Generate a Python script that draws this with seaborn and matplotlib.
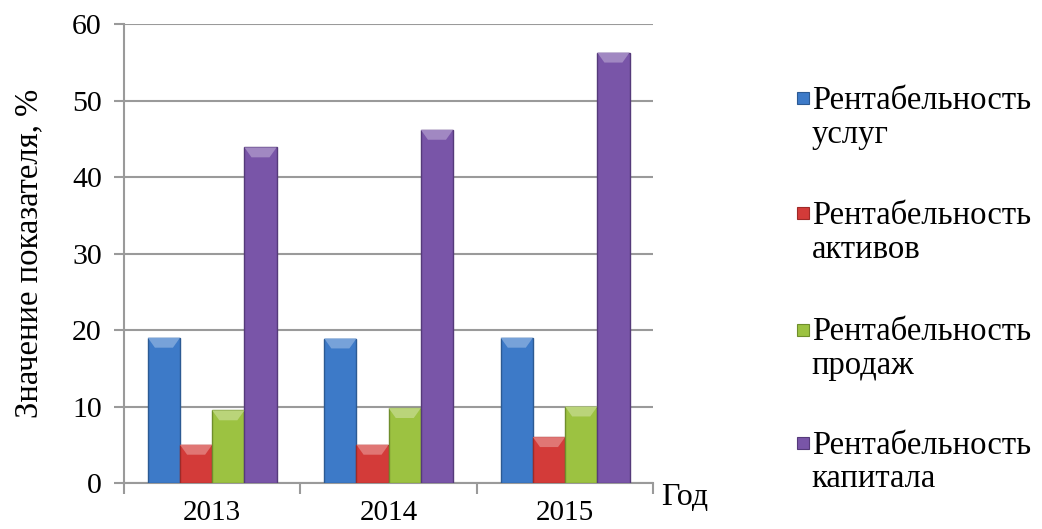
import matplotlib
matplotlib.use("Agg")
import matplotlib.pyplot as plt
from matplotlib.patches import Rectangle, Polygon
import matplotlib.colors as mcolors
import seaborn as sns
import pandas as pd

years = ["2013", "2014", "2015"]
series = ["Рентабельность услуг", "Рентабельность активов",
          "Рентабельность продаж", "Рентабельность капитала"]
legend_labels = ["Рентабельность\nуслуг", "Рентабельность\nактивов",
                 "Рентабельность\nпродаж", "Рентабельность\nкапитала"]
services = [19.0, 18.9, 19.0]
assets = [5.0, 5.0, 6.0]
sales = [9.5, 9.8, 10.0]
capital = [43.9, 46.2, 56.3]
y_ticks = [0, 10, 20, 30, 40, 50, 60]

colors = ["#3D7AC8", "#D33B39", "#9CC241", "#7955A8"]
edges = ["#2C5A93", "#9E2A28", "#6F8E2C", "#553A7A"]


def lighten(c, f):
    r, g, b = mcolors.to_rgb(c)
    return (r + (1 - r) * f, g + (1 - g) * f, b + (1 - b) * f)


df = pd.DataFrame({
    "year": years * 4,
    "series": [s for s in series for _ in years],
    "value": services + assets + sales + capital,
})

sns.set_theme(style="white")
plt.rcParams["font.family"] = ["Liberation Serif", "DejaVu Serif"]
plt.rcParams["text.color"] = "black"

fig = plt.figure(figsize=(10.42, 5.29), dpi=100)
ax = fig.add_axes([0.119, 0.087, 0.508, 0.867])

sns.barplot(data=df, x="year", y="value", hue="series", order=years,
            hue_order=series, palette=colors, width=0.73, gap=0,
            saturation=1, legend=False, ax=ax)

# outline and a bevelled highlight on top of each bar
for i, cont in enumerate(ax.containers):
    for p in cont:
        p.set_edgecolor(edges[i])
        p.set_linewidth(1.0)
        p.set_zorder(3)
        x0 = p.get_x()
        w = p.get_width()
        top = p.get_height()
        h = 1.3
        inset = w * 0.22
        ax.add_patch(Polygon([(x0, top), (x0 + w, top),
                              (x0 + w - inset, top - h), (x0 + inset, top - h)],
                             closed=True, facecolor=lighten(colors[i], 0.3),
                             edgecolor="none", zorder=4))

ax.set_ylim(0, 60)
ax.set_xlim(-0.5, 2.5)
ax.set_yticks(y_ticks)
ax.yaxis.grid(True, color="#9a9a9a", linewidth=1.5)
ax.set_axisbelow(True)
for s in ["top", "right"]:
    ax.spines[s].set_visible(False)
for s in ["left", "bottom"]:
    ax.spines[s].set_color("#9a9a9a")
    ax.spines[s].set_linewidth(1.5)

ax.tick_params(axis="y", which="major", left=True, length=7, width=1.5,
               color="#9a9a9a", labelsize=21.5, pad=9, labelcolor="black")
ax.tick_params(axis="x", which="major", bottom=False, labelsize=21,
               pad=6, labelcolor="black")
ax.set_xticks([-0.5, 0.5, 1.5, 2.5], minor=True)
ax.tick_params(axis="x", which="minor", bottom=True, length=8, width=1.5,
               color="#9a9a9a")

ax.set_xlabel("")
ax.set_ylabel("Значение показателя, %", fontsize=23.5, labelpad=20,
              color="black")
ax.text(1.015, 0.0, "Год", transform=ax.transAxes, fontsize=23,
        ha="left", va="top")

# legend entries on the right
text_centers = [0.777, 0.560, 0.341, 0.126]
marker_centers = [0.815, 0.597, 0.376, 0.163]
for lab, c, e, ty, my in zip(legend_labels, colors, edges,
                             text_centers, marker_centers):
    fig.patches.append(Rectangle((0.765, my - 0.0115), 0.0118, 0.023,
                                 transform=fig.transFigure, facecolor=c,
                                 edgecolor=e, linewidth=0.8))
    fig.text(0.779, ty, lab, fontsize=23.5, ha="left", va="center",
             linespacing=1.13)

fig.savefig("out.png", dpi=100)
